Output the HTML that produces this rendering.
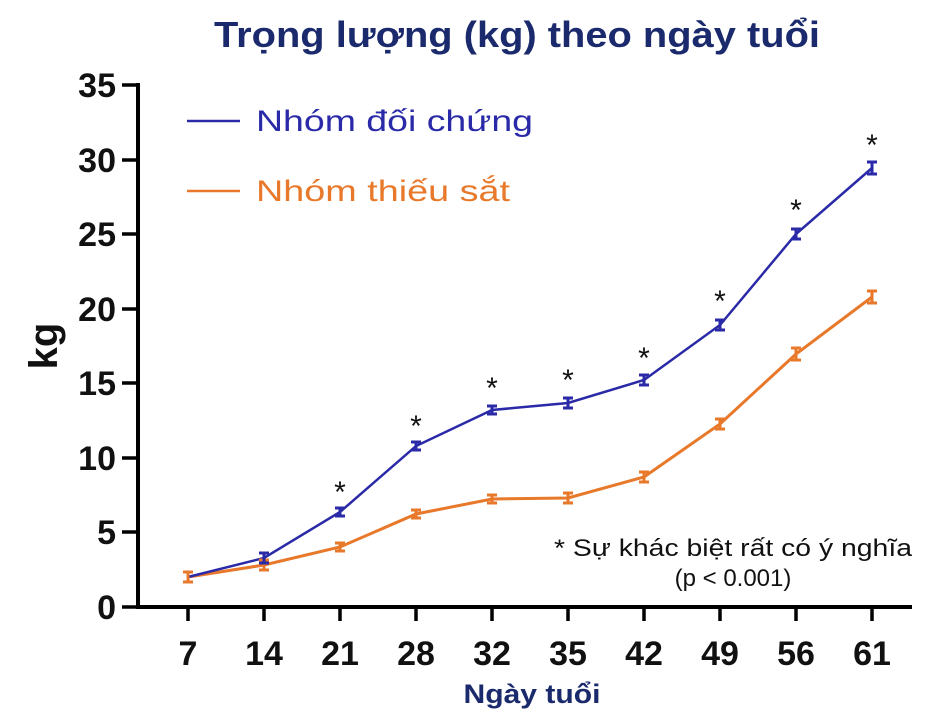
<!DOCTYPE html>
<html><head><meta charset="utf-8"><style>
body{margin:0;background:#fff}
svg{display:block}
text{font-family:"Liberation Sans",sans-serif}
</style></head><body>
<svg width="937" height="716" viewBox="0 0 937 716" xmlns="http://www.w3.org/2000/svg">
<text x="517" y="47" text-anchor="middle" font-size="36" font-weight="bold" fill="#1a2a6c" textLength="606" lengthAdjust="spacingAndGlyphs">Trọng lượng (kg) theo ngày tuổi</text>
<g stroke="#000" stroke-width="4" fill="none">
<line x1="138" y1="83" x2="138" y2="608"/>
<line x1="136" y1="607" x2="912" y2="607"/>
<g stroke-width="3.5">
<line x1="122" y1="607" x2="138" y2="607"/><line x1="122" y1="532" x2="138" y2="532"/><line x1="122" y1="458" x2="138" y2="458"/><line x1="122" y1="383" x2="138" y2="383"/><line x1="122" y1="309" x2="138" y2="309"/><line x1="122" y1="234" x2="138" y2="234"/><line x1="122" y1="160" x2="138" y2="160"/><line x1="122" y1="85" x2="138" y2="85"/>
<line x1="188" y1="607" x2="188" y2="621"/><line x1="264" y1="607" x2="264" y2="621"/><line x1="340" y1="607" x2="340" y2="621"/><line x1="416" y1="607" x2="416" y2="621"/><line x1="492" y1="607" x2="492" y2="621"/><line x1="568" y1="607" x2="568" y2="621"/><line x1="644" y1="607" x2="644" y2="621"/><line x1="720" y1="607" x2="720" y2="621"/><line x1="796" y1="607" x2="796" y2="621"/><line x1="872" y1="607" x2="872" y2="621"/>
</g></g>
<g font-size="34" font-weight="bold" text-anchor="end" fill="#111">
<text x="116" y="619">0</text><text x="116" y="544">5</text><text x="116" y="470">10</text><text x="116" y="395">15</text><text x="116" y="321">20</text><text x="116" y="246">25</text><text x="116" y="172">30</text><text x="116" y="97">35</text>
</g>
<g font-size="34" font-weight="bold" text-anchor="middle" fill="#111">
<text x="188" y="665">7</text><text x="264" y="665">14</text><text x="340" y="665">21</text><text x="416" y="665">28</text><text x="492" y="665">32</text><text x="568" y="665">35</text><text x="644" y="665">42</text><text x="720" y="665">49</text><text x="796" y="665">56</text><text x="872" y="665">61</text>
</g>
<text x="532" y="703" text-anchor="middle" font-size="27" font-weight="bold" fill="#1a2a6c" textLength="137" lengthAdjust="spacingAndGlyphs">Ngày tuổi</text>
<text transform="translate(57,346) rotate(-90)" text-anchor="middle" font-size="40" font-weight="bold" fill="#111">kg</text>
<line x1="187" y1="121" x2="240" y2="121" stroke="#2a2aa8" stroke-width="2.5"/>
<text x="256" y="131" font-size="30" fill="#2a2aa8" textLength="277" lengthAdjust="spacingAndGlyphs">Nhóm đối chứng</text>
<line x1="187" y1="191" x2="240" y2="191" stroke="#e8782a" stroke-width="2.5"/>
<text x="256" y="201" font-size="30" fill="#e8782a" textLength="254" lengthAdjust="spacingAndGlyphs">Nhóm thiếu sắt</text>
<polyline fill="none" stroke="#e8782a" stroke-width="3" points="188,577 264,565 340,547 416,514 492,499 568,498 644,477 720,424 796,354 872,297"/>
<polyline fill="none" stroke="#2a2aa8" stroke-width="2.5" points="188,577 264,558 340,512 416,446 492,410 568,403 644,380 720,325 796,234 872,168"/>
<g stroke="#e8782a" stroke-width="3">
<path d="M183,572h10M183,582h10M188,572v10M259,560h10M259,570h10M264,560v10M335,543h10M335,551h10M340,543v8M411,510h10M411,518h10M416,510v8M487,495h10M487,503h10M492,495v8M563,493h10M563,503h10M568,493v10M639,472h10M639,482h10M644,472v10M715,419h10M715,429h10M720,419v10M791,348h10M791,360h10M796,348v12M867,291h10M867,303h10M872,291v12"/>
</g>
<g stroke="#2a2aa8" stroke-width="3">
<path d="M259,553h10M259,563h10M264,553v10M335,508h10M335,516h10M340,508v8M411,442h10M411,450h10M416,442v8M487,406h10M487,414h10M492,406v8M563,398h10M563,408h10M568,398v10M639,375h10M639,385h10M644,375v10M715,320h10M715,330h10M720,320v10M791,229h10M791,239h10M796,229v10M867,162h10M867,174h10M872,162v12"/>
</g>
<g font-size="30" text-anchor="middle" fill="#111">
<text x="340" y="502">*</text><text x="416" y="436">*</text><text x="492" y="398">*</text><text x="568" y="390">*</text><text x="644" y="368">*</text><text x="720" y="311">*</text><text x="796" y="220">*</text><text x="872" y="155">*</text>
</g>
<text x="733" y="556" text-anchor="middle" font-size="24" fill="#111" textLength="358" lengthAdjust="spacingAndGlyphs">* Sự khác biệt rất có ý nghĩa</text>
<text x="733" y="586" text-anchor="middle" font-size="24" fill="#111">(p &lt; 0.001)</text>
</svg>
</body></html>
